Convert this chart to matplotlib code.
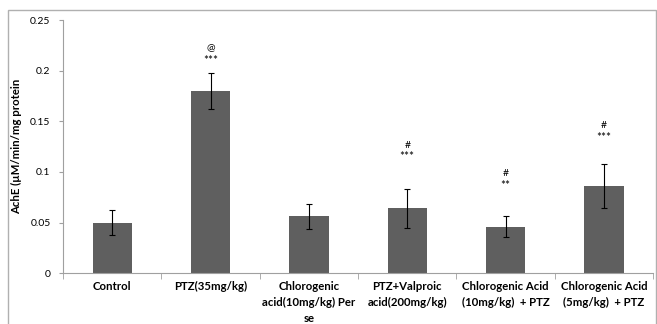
import numpy as np
import matplotlib.pyplot as plt
from matplotlib.patches import Rectangle

# data
groups = ["Control", "PTZ(35mg/kg)", "Chlorogenic\nacid(10mg/kg) Per\nse",
          "PTZ+Valproic\nacid(200mg/kg)", "Chlorogenic Acid\n(10mg/kg)  + PTZ",
          "Chlorogenic Acid\n(5mg/kg)  + PTZ"]
ache = [0.050, 0.180, 0.056, 0.064, 0.046, 0.086]
sem = [0.0125, 0.018, 0.012, 0.019, 0.010, 0.022]
sig_top = ["", "@", "", "#", "#", "#"]
sig_bottom = ["", "***", "", "***", "**", "***"]
sig_top_y = [0, 0.222, 0, 0.126, 0.098, 0.146]
sig_bottom_y = [0, 0.210, 0, 0.115, 0.087, 0.134]

plt.rcParams['font.family'] = ['Lato', 'DejaVu Sans']

fig = plt.figure(figsize=(6.57, 3.24), dpi=100)
ax = fig.add_axes([0.096, 0.157, 0.898, 0.781])

x = np.arange(len(groups))
ax.bar(x, ache, width=0.4, color="#5f5f5f", zorder=2)
ax.errorbar(x, ache, yerr=sem, fmt="none", ecolor="black", elinewidth=0.8,
            capsize=2, capthick=0.8, zorder=3)

for i in range(len(groups)):
    if sig_top[i]:
        ax.text(x[i], sig_top_y[i], sig_top[i], ha="center", va="center", fontsize=7.5)
        ax.text(x[i], sig_bottom_y[i], sig_bottom[i], ha="center", va="center", fontsize=8.5)

ax.set_xlim(-0.5, len(groups) - 0.5)
ax.set_ylim(0, 0.25)
ax.set_yticks([0, 0.05, 0.1, 0.15, 0.2, 0.25])
ax.set_yticklabels(["0", "0.05", "0.1", "0.15", "0.2", "0.25"])
ax.tick_params(axis="y", labelsize=7.5, length=3, color="#a0a0a0", pad=6)

ax.set_xticks(x)
ax.set_xticklabels(groups, fontsize=8.2, fontweight="bold", linespacing=1.5)
ax.tick_params(axis="x", length=0, pad=6)
ax.set_xticks(np.arange(len(groups) + 1) - 0.5, minor=True)
ax.tick_params(axis="x", which="minor", length=4, color="#a0a0a0")

ax.set_ylabel("AchE (µM/min/mg protein", fontsize=8.2, fontweight="bold", labelpad=6)
for s in ["top", "right"]:
    ax.spines[s].set_visible(False)
ax.spines["left"].set_color("#a0a0a0")
ax.spines["bottom"].set_color("#a0a0a0")

# chart frame
fig.patches.append(Rectangle((8 / 657, -0.05), 648 / 657, 1.0195, transform=fig.transFigure,
                             fill=False, edgecolor="#b0b0b0", linewidth=1))

fig.savefig("out.png", dpi=100)
